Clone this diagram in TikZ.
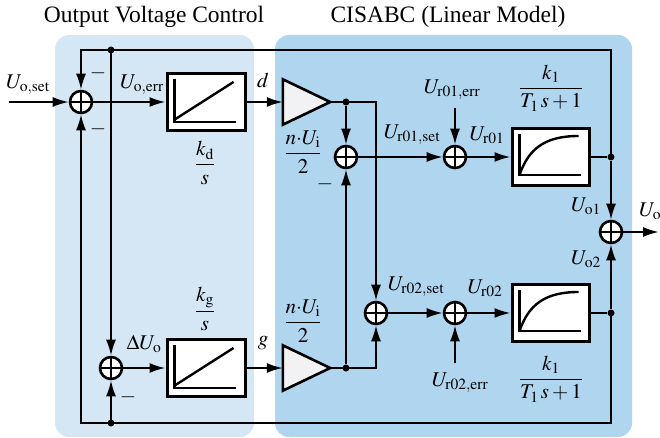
\documentclass[tikz,border=0pt]{standalone}
\usepackage{mathptmx}
\usepackage{fontspec}
\setmainfont{Liberation Serif}
\usetikzlibrary{arrows.meta,calc}
\definecolor{panelA}{RGB}{213,231,245}
\definecolor{panelB}{RGB}{176,213,238}
\definecolor{ampfill}{RGB}{242,242,244}
\tikzset{
  every node/.style={font=\fontsize{21}{25}\selectfont},
  titletext/.style={font=\fontsize{23.5}{27}\selectfont},
  line/.style={line width=2pt},
  arr/.style={line width=2pt,-{Latex[length=16pt,width=10pt]}},
  sumnode/.style={circle,draw,line width=2.6pt,fill=white,minimum size=22pt,inner sep=0pt,
    path picture={\draw[line width=2pt] (path picture bounding box.north) -- (path picture bounding box.south)
      (path picture bounding box.west) -- (path picture bounding box.east);}},
  blockbox/.style={draw,line width=3pt,fill=white,minimum width=78pt,minimum height=57pt,inner sep=0pt},
  ampbox/.style={inner sep=0pt,minimum width=47pt,minimum height=45pt},
  junction/.style={circle,fill,inner sep=0pt,minimum size=7pt},
  graph/.style={line width=2.4pt},
}
\begin{document}
\begin{tikzpicture}[x=1pt,y=-1pt]
\useasboundingbox (0,0) rectangle (660,438);
% panels
\fill[panelA,rounded corners=14pt] (55,35) rectangle (254,437);
\fill[panelB,rounded corners=14pt] (275,35) rectangle (632,437);
\node[titletext] (t1) at (154,17) {Output Voltage Control};
\node[titletext] (t2) at (448,17) {CISABC (Linear Model)};

% coordinates
\coordinate (in) at (9,102);
\coordinate (out) at (659,232);
\coordinate (c1) at (376,102);
\coordinate (c2) at (376,368);
\coordinate (tr) at (611,50);
\coordinate (tl) at (81,50);
\coordinate (br) at (611,423);
\coordinate (bl) at (81,423);
\coordinate (e1) at (455,108);
\coordinate (e2) at (455,363);

% blocks
\node[sumnode] (s0) at (81,102) {};
\node[sumnode] (sb) at (111,368) {};
\node[blockbox] (kd) at (206,102) {};
\node[blockbox] (kg) at (206,368) {};
\node[ampbox] (a1) at (306.5,102) {};
\node[ampbox] (a2) at (306.5,368) {};
\node[sumnode] (s1) at (346,157) {};
\node[sumnode] (s2) at (455,157) {};
\node[sumnode] (s3) at (376,313) {};
\node[sumnode] (s4) at (455,313) {};
\node[blockbox,minimum width=77pt] (g1) at (550.5,157) {};
\node[blockbox,minimum width=77pt] (g2) at (550.5,313) {};
\node[sumnode] (so) at (611,232) {};

\draw[line width=2.6pt,fill=ampfill] (a1.north west) -- (a1.east) -- (a1.south west) -- cycle;
\draw[line width=2.6pt,fill=ampfill] (a2.north west) -- (a2.east) -- (a2.south west) -- cycle;

% block graphics
\foreach \b in {kd,kg}{
  \begin{scope}[shift={(\b.north west)}]
    \draw[graph] (9,7) -- (9,50) -- (70,50);
    \draw[graph] (10,47) -- (68,10);
  \end{scope}
}
\foreach \b in {g1,g2}{
  \begin{scope}[shift={(\b.north west)}]
    \draw[graph] (9,7) -- (9,48) -- (70,48);
    \draw[graph] (9,48) .. controls (18,22) and (34,9) .. (68,9);
  \end{scope}
}

% junction dots
\node[junction] (j1) at (346,102) {};
\node[junction] (j2) at (346,368) {};
\node[junction] (j3) at (611,157) {};
\node[junction] (j4) at (611,313) {};
\node[junction] (j5) at (111,50) {};
\node[junction] (j6) at (111,423) {};

% connectors
\draw[arr] (in) -- (s0);
\draw[arr] (s0) -- (kd);
\draw[arr] (kd) -- (a1.west);
\draw[arr] (a1.east) -- (c1) -- (s3);
\draw[arr] (j1) -- (s1);
\draw[arr] (j2) -- (s1);
\draw[arr] (sb) -- (kg);
\draw[arr] (kg) -- (a2.west);
\draw[arr] (a2.east) -- (c2) -- (s3);
\draw[arr] (s1) -- (s2);
\draw[arr] (e1) -- (s2);
\draw[arr] (s2) -- (g1);
\draw[line] (g1) -- (j3);
\draw[arr] (j3) -- (so);
\draw[arr] (j3.center) -- (tr) -- (tl) -- (s0);
\draw[arr] (j5.center) -- (sb);
\draw[arr] (s3) -- (s4);
\draw[arr] (e2) -- (s4);
\draw[arr] (s4) -- (g2);
\draw[line] (g2) -- (j4);
\draw[arr] (j4) -- (so);
\draw[arr] (j4.center) -- (br) -- (bl) -- (s0);
\draw[arr] (j6.center) -- (sb);
\draw[arr] (so) -- (out);

% labels
\node (lset) at (28,85) {$U_{\mathrm{o,set}}$};
\node (m1) at (98,73) {$-$};
\node (m2) at (98,129) {$-$};
\node (lerr) at (142,85) {$U_{\mathrm{o,err}}$};
\node (ld) at (263,80) {$d$};
\node (fkd) at (205,163) {$\displaystyle\frac{k_{\mathrm{d}}}{s}$};
\node (fkg) at (205,309) {$\displaystyle\frac{k_{\mathrm{g}}}{s}$};
\node (ldu) at (144,344) {$\Delta U_{\mathrm{o}}$};
\node (m3) at (128,397) {$-$};
\node (lg) at (263,343) {$g$};
\node (fn1) at (303,152) {$\displaystyle\frac{n{\cdot}U_{\mathrm{i}}}{2}$};
\node (fn2) at (303,321) {$\displaystyle\frac{n{\cdot}U_{\mathrm{i}}}{2}$};
\node (m4) at (325,184) {$-$};
\node (lr1s) at (412,135) {$U_{\mathrm{r01,set}}$};
\node (lr1e) at (452,90) {$U_{\mathrm{r01,err}}$};
\node (lr1) at (487,135) {$U_{\mathrm{r01}}$};
\node (lr2s) at (416,287) {$U_{\mathrm{r02,set}}$};
\node (lr2e) at (460,383) {$U_{\mathrm{r02,err}}$};
\node (lr2) at (485,288) {$U_{\mathrm{r02}}$};
\node (fg1) at (551,88) {$\displaystyle\frac{k_1}{T_1\,s+1}$};
\node (fg2) at (551,379) {$\displaystyle\frac{k_1}{T_1\,s+1}$};
\node (lo1) at (586,206) {$U_{\mathrm{o1}}$};
\node (lo2) at (586,259) {$U_{\mathrm{o2}}$};
\node[anchor=west,inner sep=0pt] (lo) at (639,211) {$U_{\mathrm{o}}$};
\end{tikzpicture}
\end{document}
